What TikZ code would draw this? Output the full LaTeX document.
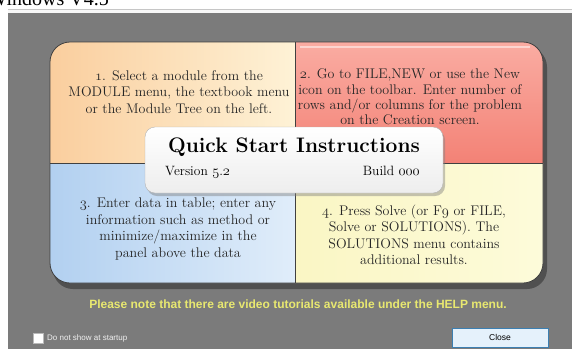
\documentclass[tikz,border=0pt]{standalone}
\usepackage{fontspec}
\newfontfamily\uifont{Liberation Sans}
\newfontfamily\winfont{Liberation Serif}
\usetikzlibrary{shadows}
\newcommand\oldnum[1]{{\usefont{OML}{cmm}{m}{it}#1}}
\definecolor{panelgray}{RGB}{123,123,123}
\definecolor{orangeA}{RGB}{250,206,158}
\definecolor{orangeB}{RGB}{254,242,214}
\definecolor{redA}{RGB}{250,172,162}
\definecolor{redB}{RGB}{243,130,118}
\definecolor{blueA}{RGB}{178,208,240}
\definecolor{blueB}{RGB}{224,237,250}
\definecolor{yellowA}{RGB}{250,246,196}
\definecolor{yellowB}{RGB}{253,251,218}
\definecolor{notecolor}{RGB}{232,232,112}
\definecolor{btnfill}{RGB}{229,241,251}
\definecolor{btnedge}{RGB}{60,127,177}

\begin{document}
\begin{tikzpicture}[x=1pt,y=-1pt,
  quad/.style={align=center,inner sep=0pt,text=black!85,font=\fontsize{14}{16.5}\selectfont},
  edge/.style={draw=black!75,line width=0.8pt},
  infobox/.style={rounded corners=10pt,draw=gray!60,top color=white,bottom color=gray!14,
    minimum width=298pt,minimum height=66pt,
    drop shadow={opacity=.45,shadow xshift=2pt,shadow yshift=-3pt}},
  ui/.style={font=\uifont\fontsize{8}{10}\selectfont}]
\useasboundingbox (0,0) rectangle (572,349);
\node[anchor=base east,inner sep=0pt,font=\winfont\fontsize{20}{20}\selectfont] at (109,5) (wintitle) {Windows V4.5};
\fill[gray!6] (8,9) rectangle (572,13);
\draw[gray!45] (8,9) -- (572,9);
\fill[panelgray] (8,13) rectangle (572,349);

\fill[black,opacity=.35,rounded corners=20pt] (53,47) rectangle (547,289);
\begin{scope}
\clip[rounded corners=20pt] (50,42) rectangle (543,283);
\shade[left color=orangeA,right color=orangeB] (50,42) rectangle (295,163);
\shade[top color=redA,bottom color=redB] (295,42) rectangle (543,163);
\shade[left color=blueA,right color=blueB] (50,163) rectangle (295,283);
\shade[left color=yellowA,right color=yellowB] (295,163) rectangle (543,283);
\draw[white,opacity=.5,line width=2pt] (300,47) -- (530,47);
\end{scope}
\draw[edge,rounded corners=20pt] (50,42) rectangle (543,283);
\draw[edge] (295,42) -- (295,283);
\draw[edge] (50,163) -- (543,163);

\node[quad] at (179,92) (step1) {\oldnum{1}. Select a module from the\\MODULE menu, the textbook menu\\or the Module Tree on the left.};
\node[quad,font=\fontsize{14}{15.3}\selectfont] at (410,97) (step2) {\oldnum{2}. Go to FILE,NEW or use the New\\icon on the toolbar. Enter number of\\rows and/or columns for the problem\\on the Creation screen.};
\node[quad] at (178,229) (step3) {\oldnum{3}. Enter data in table; enter any\\information such as method or\\minimize/maximize in the\\panel above the data};
\node[quad] at (414,235) (step4) {\oldnum{4}. Press Solve (or F\oldnum{9} or FILE,\\Solve or SOLUTIONS). The\\SOLUTIONS menu contains\\additional results.};

\node[infobox] at (294,160) (info) {};
\node[anchor=base,inner sep=0pt,font=\fontsize{21}{24}\selectfont\bfseries] at (294,152) (title) {Quick Start Instructions};
\node[anchor=base west,inner sep=0pt,font=\fontsize{13.5}{15}\selectfont] at (165,175) (version) {Version \oldnum{5}.\oldnum{2}};
\node[anchor=base east,inner sep=0pt,font=\fontsize{13.5}{15}\selectfont] at (420,175) (build) {Build \oldnum{000}};

\node[anchor=base,inner sep=0pt,text=notecolor,font=\uifont\bfseries\fontsize{12}{14}\selectfont] at (298,308) (note) {Please note that there are video tutorials available under the HELP menu.};
\node[draw=gray!55,fill=white,minimum size=10pt,inner sep=0pt] at (38,338) (showbox) {};
\node[ui,anchor=west,text=gray!12,inner sep=0pt] at (47,338.5) (showlabel) {Do not show at startup};
\node[ui,font=\uifont\fontsize{8.5}{10}\selectfont,draw=btnedge,fill=btnfill,minimum width=96pt,minimum height=19pt,inner sep=0pt] at (500,337.5) (close) {Close};
\end{tikzpicture}
\end{document}
